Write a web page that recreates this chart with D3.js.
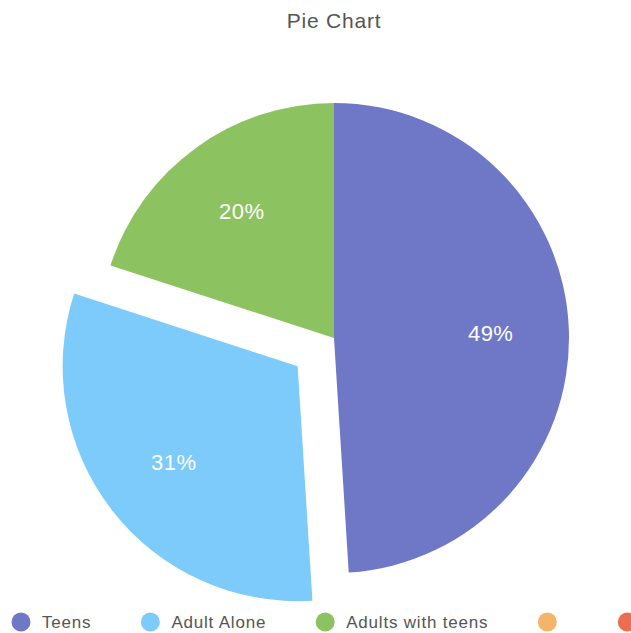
<!DOCTYPE html>
<html>
<head>
<meta charset="utf-8">
<script src="https://cdn.jsdelivr.net/npm/d3@7"></script>
<style>
  body { margin: 0; background: #fff; }
  svg { display: block; font-family: "Liberation Sans", Arial, sans-serif; }
</style>
</head>
<body>
<svg id="chart" width="631" height="633"></svg>
<script>
// chart data
var categories = ["Teens", "Adult Alone", "Adults with teens", "", ""];
var values = [49, 31, 20, 0, 0];
var colors = ["#6e78c6", "#7ccbfa", "#8cc360", "#f4b56a", "#eb6e53"];
var exploded = [false, true, false, false, false];

var data = categories.map(function (c, i) {
    return { name: c, value: values[i], color: colors[i], out: exploded[i] };
});

var svg = d3.select("#chart");

// title
svg.append("text")
    .attr("x", 334)
    .attr("y", 28)
    .attr("text-anchor", "middle")
    .attr("font-size", 21)
    .attr("letter-spacing", 0.8)
    .attr("fill", "#555")
    .text("Pie Chart");

var cx = 334, cy = 338, radius = 235, explode = 46;

var pie = d3.pie()
    .value(function (d) { return d.value; })
    .sort(null);

var arc = d3.arc().innerRadius(0).outerRadius(radius);
var labelArc = d3.arc().innerRadius(radius * 0.667).outerRadius(radius * 0.667);

var g = svg.append("g").attr("transform", "translate(" + cx + "," + cy + ")");

var slices = g.selectAll(".slice")
    .data(pie(data).filter(function (d) { return d.value > 0; }))
    .enter()
    .append("g")
    .attr("class", "slice")
    .attr("transform", function (d) {
        if (!d.data.out) return null;
        var a = (d.startAngle + d.endAngle) / 2;
        return "translate(" + (Math.sin(a) * explode) + "," + (-Math.cos(a) * explode) + ")";
    });

slices.append("path")
    .attr("d", arc)
    .attr("fill", function (d) { return d.data.color; });

slices.append("text")
    .attr("transform", function (d) { return "translate(" + labelArc.centroid(d) + ")"; })
    .attr("text-anchor", "middle")
    .attr("dy", "0.35em")
    .attr("font-size", 22)
    .attr("letter-spacing", 0.5)
    .attr("fill", "#fff")
    .text(function (d) { return d.data.value + "%"; });

// legend, laid out item after item
var legend = svg.append("g").attr("transform", "translate(0,622)");
var lx = 21;
data.forEach(function (d) {
    var item = legend.append("g").attr("transform", "translate(" + lx + ",0)");
    item.append("circle")
        .attr("r", 9.5)
        .attr("fill", d.color);
    var t = item.append("text")
        .attr("x", 21)
        .attr("dy", "0.35em")
        .attr("font-size", 17)
        .attr("letter-spacing", 0.8)
        .attr("fill", "#555")
        .text(d.name);
    var w = d.name ? t.node().getComputedTextLength() : 0;
    lx += 20 + w + 60;
});
</script>
</body>
</html>
